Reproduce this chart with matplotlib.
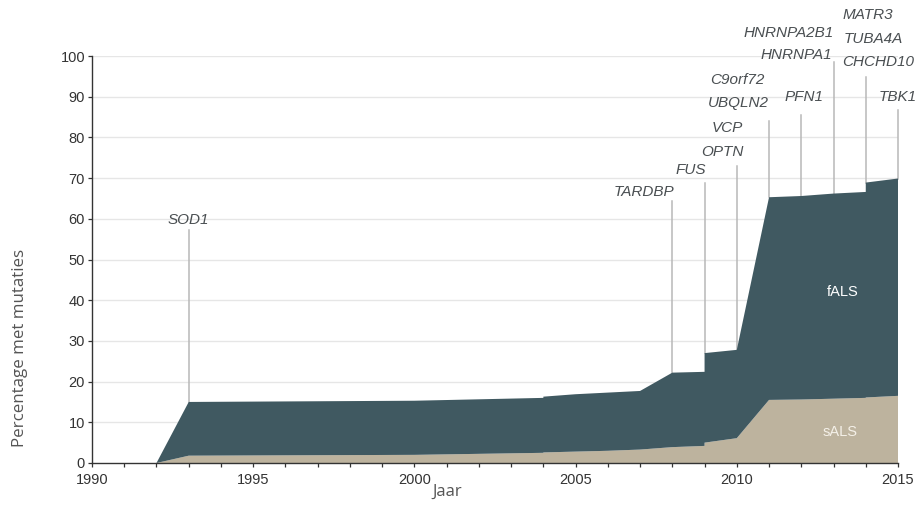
import matplotlib
matplotlib.use("Agg")
import matplotlib.pyplot as plt
from matplotlib.ticker import MultipleLocator

# ---------------- data ----------------
years = [1990, 1992, 1993, 2000, 2004, 2004, 2005, 2006, 2007, 2008,
         2009, 2009, 2010, 2011, 2012, 2013, 2014, 2014, 2015]
sals = [0, 0, 1.8, 2.0, 2.5, 2.6, 2.8, 3.0, 3.3, 3.9,
        4.2, 5.0, 6.1, 15.5, 15.6, 15.8, 16.0, 16.1, 16.5]
fals = [0, 0, 13.2, 13.3, 13.5, 13.7, 14.1, 14.3, 14.4, 18.3,
        18.2, 22.0, 21.7, 49.8, 50.0, 50.4, 50.6, 52.8, 53.4]
series_names = ["sALS", "fALS"]

gene_names = ["SOD1", "TARDBP", "FUS", "OPTN", "VCP", "UBQLN2", "C9orf72",
              "PFN1", "HNRNPA1", "HNRNPA2B1", "CHCHD10", "TUBA4A", "MATR3", "TBK1"]
gene_years = [1993, 2008, 2009, 2010, 2011, 2011, 2011,
              2012, 2013, 2013, 2014, 2014, 2014, 2015]

x_ticks = [1990, 1995, 2000, 2005, 2010, 2015]
y_ticks = [0, 10, 20, 30, 40, 50, 60, 70, 80, 90, 100]

# ---------------- layout / style ----------------
C_FALS = "#405961"
C_SALS = "#bdb39e"
C_TEXT = "#333333"
C_GENE = "#4a4f52"
C_LINE = "#b8b8b8"
NARROW = ["Liberation Sans Narrow", "Liberation Sans", "DejaVu Sans"]

# vertical marker lines: year -> top of line (data units)
line_tops = {1993: 57.2, 2008: 64.4, 2009: 68.9, 2010: 73.0, 2011: 84.0,
             2012: 85.5, 2013: 98.6, 2014: 94.9, 2015: 86.7}
# label placement: (x, y, ha)
label_pos = {
    "SOD1": (1993.0, 59.8, "center"),
    "TARDBP": (2008.05, 66.7, "right"),
    "FUS": (2009.05, 72.0, "right"),
    "OPTN": (2010.2, 76.5, "right"),
    "VCP": (2010.2, 82.4, "right"),
    "UBQLN2": (2011.0, 88.4, "right"),
    "C9orf72": (2010.85, 94.1, "right"),
    "PFN1": (2012.1, 90.0, "center"),
    "HNRNPA1": (2012.95, 100.2, "right"),
    "HNRNPA2B1": (2013.0, 105.6, "right"),
    "CHCHD10": (2014.38, 98.6, "center"),
    "TUBA4A": (2014.22, 104.1, "center"),
    "MATR3": (2014.08, 110.1, "center"),
    "TBK1": (2015.0, 90.0, "center"),
}

fig = plt.figure(figsize=(9.18, 5.24), dpi=100)
ax = fig.add_axes([92 / 918, 1 - 463 / 524, 806 / 918, 407 / 524])

ax.stackplot(years, sals, fals, colors=[C_SALS, C_FALS], labels=series_names,
             linewidth=0, zorder=2)

ax.set_xlim(1990, 2015)
ax.set_ylim(0, 100)
ax.set_xticks(x_ticks)
ax.xaxis.set_minor_locator(MultipleLocator(1))
ax.set_yticks(y_ticks)

for y in y_ticks[1:]:
    ax.axhline(y, color="#e6e6e6", linewidth=1.0, zorder=0)

for s in ["top", "right"]:
    ax.spines[s].set_visible(False)
for s in ["left", "bottom"]:
    ax.spines[s].set_color("#333333")
    ax.spines[s].set_linewidth(1.0)
ax.spines["left"].set_zorder(3)
ax.spines["bottom"].set_zorder(3)

ax.tick_params(axis="both", which="major", length=3, width=0.9, color="#333333",
               labelcolor=C_TEXT, labelsize=10.5)
ax.tick_params(axis="x", which="major", pad=4)
ax.tick_params(axis="y", which="major", pad=2)
ax.tick_params(axis="x", which="minor", length=3, width=0.9, color="#333333")
for lab in ax.get_xticklabels() + ax.get_yticklabels():
    lab.set_family(NARROW)

# marker lines
for yr in sorted(set(gene_years)):
    idx = max(i for i, v in enumerate(years) if v == yr)
    top = sals[idx] + fals[idx]
    ax.plot([yr, yr], [top, line_tops[yr]], color=C_LINE, linewidth=1.1,
            zorder=1, clip_on=False)

# gene labels
for g in gene_names:
    x, y, ha = label_pos[g]
    ax.text(x, y, g, ha=ha, va="center", fontsize=11, style="italic",
            color=C_GENE, family=NARROW, clip_on=False)

# series labels inside the areas
ax.text(2013.3, 42, "fALS", ha="center", va="center", color="white",
        fontsize=10.5, family=NARROW, zorder=4)
ax.text(2013.2, 7.5, "sALS", ha="center", va="center", color="#f4f0e8",
        fontsize=10.5, family=NARROW, zorder=4)

# axis titles
fig.text(20 / 918, 1 - 348 / 524, "Percentage met mutaties", rotation=90,
         ha="center", va="center", fontsize=12.2, color="#555555",
         family=["Open Sans", "DejaVu Sans"])
fig.text(447 / 918, 1 - 492 / 524, "Jaar", ha="center", va="center",
         fontsize=12, color="#555555", family=["Open Sans", "DejaVu Sans"])

fig.savefig("out.png", dpi=100, facecolor="white")
